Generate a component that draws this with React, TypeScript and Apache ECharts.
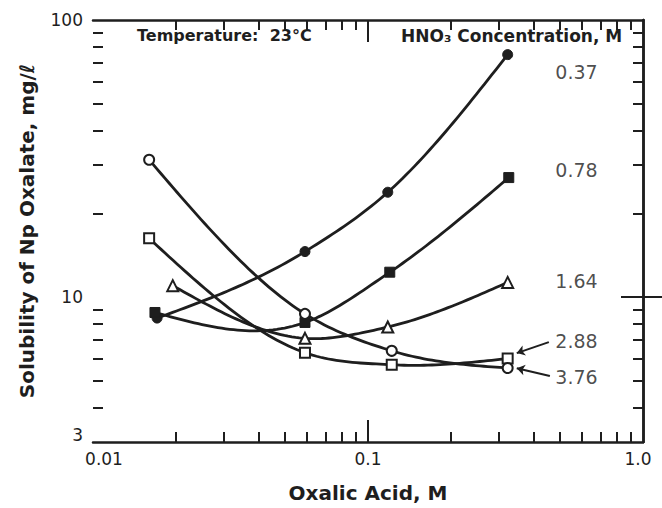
import React, { useEffect, useRef } from 'react';
import * as echarts from 'echarts';

const FONT = 'DejaVu Sans';
const INK = '#1e1e1e';

// HNO3 concentrations (M) labelling each curve
const concentrations = ['0.37', '0.78', '1.64', '2.88', '3.76'];

// Oxalic acid (M) and solubility (mg/l) for each HNO3 concentration
const oxalic037 = [0.0171, 0.059, 0.118, 0.322];
const solub037 = [8.4, 14.6, 23.9, 75];

const oxalic078 = [0.0168, 0.059, 0.12, 0.325];
const solub078 = [8.8, 8.1, 12.3, 27];

const oxalic164 = [0.0195, 0.059, 0.118, 0.322];
const solub164 = [11.0, 7.1, 7.8, 11.3];

const oxalic288 = [0.016, 0.059, 0.122, 0.322];
const solub288 = [16.3, 6.3, 5.7, 6.0];

const oxalic376 = [0.016, 0.059, 0.122, 0.322];
const solub376 = [31.3, 8.7, 6.4, 5.55];

// Axes
const X_MIN = 0.01;
const X_MAX = 1;
const Y_MIN = 3;
const Y_MAX = 100;
const xLabelValues = [0.01, 0.1, 1];
const xLabelTexts = ['0.01', '0.1', '1.0'];
const xMajorTicks = [0.1];
const xMinorTicks = [0.02, 0.03, 0.04, 0.05, 0.06, 0.07, 0.08, 0.09, 0.2, 0.3, 0.4, 0.5, 0.6, 0.7, 0.8, 0.9];
const yLabelValues = [3, 10, 100];
const yMajorTicks = [10];
const yMinorTicks = [4, 5, 6, 7, 8, 9, 20, 30, 40, 50, 60, 70, 80, 90];

// Curve label anchors (data space)
const labelX = [0.478, 0.478, 0.478, 0.478, 0.478];
const labelY = [64.9, 28.7, 11.4, 6.94, 5.14];

// Arrows from labels 2.88 and 3.76 to their end markers
const arrowFromX = [0.4546, 0.4585];
const arrowFromY = [6.88, 5.19];
const arrowToX = [0.3475, 0.3475];
const arrowToY = [6.28, 5.54];

const zip = (xs: number[], ys: number[]) => xs.map((x, i) => [x, ys[i]]);

// Smooth curve through the points in log-log space (cubic Hermite spline)
function makeCurve(xs: number[], ys: number[]) {
  const X = xs.map((v) => Math.log10(v));
  const Y = ys.map((v) => Math.log10(v));
  const n = X.length;
  const h: number[] = [];
  const s: number[] = [];
  for (let i = 0; i < n - 1; i++) {
    h.push(X[i + 1] - X[i]);
    s.push((Y[i + 1] - Y[i]) / h[i]);
  }
  const d: number[] = new Array(n).fill(0);
  for (let i = 1; i < n - 1; i++) {
    d[i] = (h[i] * s[i - 1] + h[i - 1] * s[i]) / (h[i - 1] + h[i]);
  }
  const e0 = ((2 * h[0] + h[1]) * s[0] - h[0] * s[1]) / (h[0] + h[1]);
  const m = n - 2;
  const e1 = ((2 * h[m] + h[m - 1]) * s[m] - h[m] * s[m - 1]) / (h[m - 1] + h[m]);
  d[0] = (e0 + s[0]) / 2;
  d[n - 1] = (e1 + s[m]) / 2;
  return (x: number) => {
    const t0 = Math.log10(x);
    let k = 0;
    while (k < n - 2 && t0 > X[k + 1]) k++;
    const t = (t0 - X[k]) / h[k];
    const t2 = t * t;
    const t3 = t2 * t;
    const r =
      (2 * t3 - 3 * t2 + 1) * Y[k] +
      (t3 - 2 * t2 + t) * h[k] * d[k] +
      (-2 * t3 + 3 * t2) * Y[k + 1] +
      (t3 - t2) * h[k] * d[k + 1];
    return Math.pow(10, r);
  };
}

function xAxisBase(position: 'top' | 'bottom') {
  return {
    type: 'log', logBase: 10, min: X_MIN, max: X_MAX, position,
    splitLine: { show: false }, axisLabel: { show: false },
  };
}
function yAxisBase(position: 'left' | 'right') {
  return {
    type: 'log', logBase: 10, min: Y_MIN, max: Y_MAX, position,
    splitLine: { show: false }, axisLabel: { show: false },
  };
}

export default function App() {
  const ref = useRef<HTMLDivElement>(null);

  useEffect(() => {
    if (!ref.current) return;
    const chart = echarts.init(ref.current, undefined, { renderer: 'svg' });

    const MINOR_LEN = 10;
    const lineAxis = { show: true, lineStyle: { color: INK, width: 2.5 } };
    const majorTick = (vals: number[]) => ({
      show: true, inside: true, length: 22, customValues: vals,
      lineStyle: { color: INK, width: 2 },
    });

    // minor ticks: linear axes laid out in log10 space over the same frame
    const minorX = (position: 'top' | 'bottom') => ({
      type: 'value',
      position,
      min: Math.log10(X_MIN),
      max: Math.log10(X_MAX),
      axisLine: { show: false },
      splitLine: { show: false },
      axisLabel: { show: false },
      axisTick: {
        show: true, inside: true, length: MINOR_LEN,
        customValues: xMinorTicks.map((v) => Math.log10(v)),
        lineStyle: { color: INK, width: 2 },
      },
    });
    const minorY = (position: 'left' | 'right') => ({
      type: 'value',
      position,
      min: Math.log10(Y_MIN),
      max: Math.log10(Y_MAX),
      axisLine: { show: false },
      splitLine: { show: false },
      axisLabel: { show: false },
      axisTick: {
        show: true, inside: true, length: MINOR_LEN,
        customValues: yMinorTicks.map((v) => Math.log10(v)),
        lineStyle: { color: INK, width: 2 },
      },
    });

    const markerOpen = { color: '#ffffff', borderColor: INK, borderWidth: 2, opacity: 1 };
    const markerFilled = { color: INK, borderColor: INK, borderWidth: 1, opacity: 1 };

    const curveSeries = (name: string, xs: number[], ys: number[]) => {
      const f = makeCurve(xs, ys);
      return {
        type: 'custom',
        name: name + ' curve',
        silent: true,
        data: zip(xs, ys),
        renderItem: (params: any, api: any) => {
          if (params.dataIndex !== 0) return null;
          const a = Math.log10(xs[0]);
          const b = Math.log10(xs[xs.length - 1]);
          const pts: number[][] = [];
          const N = 90;
          for (let i = 0; i <= N; i++) {
            const x = Math.pow(10, a + ((b - a) * i) / N);
            pts.push(api.coord([x, f(x)]));
          }
          return {
            type: 'polyline',
            shape: { points: pts },
            style: { stroke: INK, lineWidth: 2.8, fill: null },
          };
        },
        z: 3,
      };
    };

    const markerSeries = (name: string, xs: number[], ys: number[], symbol: string, open: boolean) => ({
      type: 'scatter',
      name,
      data: zip(xs, ys),
      symbol,
      symbolSize: symbol === 'triangle' ? 11 : 10,
      itemStyle: open ? markerOpen : markerFilled,
      clip: false,
      z: 6,
    });

    const option: any = {
      animation: false,
      backgroundColor: '#ffffff',
      textStyle: { fontFamily: FONT },
      grid: { left: 93, right: 19, top: 20, bottom: 66, containLabel: false, outerBoundsMode: 'none' },
      xAxis: [
        {
          ...xAxisBase('bottom'),
          axisLine: lineAxis,
          axisTick: majorTick(xMajorTicks),
          axisLabel: {
            show: true,
            customValues: xLabelValues,
            margin: 8,
            color: INK,
            fontFamily: FONT,
            fontSize: 17,
            formatter: (v: number) => {
              let idx = 0;
              xLabelValues.forEach((lv, i) => {
                if (Math.abs(Math.log10(lv) - Math.log10(v)) < 1e-6) idx = i;
              });
              const t = xLabelTexts[idx];
              if (idx === 0) return '{l|' + t + '}';
              if (idx === xLabelValues.length - 1) return '{r|' + t + '}';
              return t;
            },
            rich: {
              l: { fontFamily: FONT, fontSize: 17, color: INK, padding: [0, 0, 0, 22] },
              r: { fontFamily: FONT, fontSize: 17, color: INK, padding: [0, 10, 0, 0] },
            },
          },
          name: 'Oxalic Acid, M',
          nameLocation: 'middle',
          nameGap: 41,
          nameTextStyle: { fontFamily: FONT, fontSize: 20, fontWeight: 'bold', color: INK },
        },
        { ...xAxisBase('top'), axisLine: lineAxis, axisTick: majorTick(xMajorTicks) },
        minorX('top'),
        minorX('bottom'),
      ],
      yAxis: [
        {
          ...yAxisBase('left'),
          axisLine: lineAxis,
          axisTick: majorTick(yMajorTicks),
          axisLabel: {
            show: true,
            customValues: yLabelValues,
            margin: 10,
            color: INK,
            fontFamily: FONT,
            fontSize: 17,
            formatter: (v: number) => (Math.abs(v - 3) < 1e-6 ? '{b|3}' : String(Math.round(v))),
            rich: {
              b: { fontFamily: FONT, fontSize: 17, color: INK, padding: [0, 0, 14, 0] },
            },
          },
          name: 'Solubility of Np Oxalate, mg/ℓ',
          nameLocation: 'middle',
          nameGap: 56,
          nameTextStyle: { fontFamily: FONT, fontSize: 20, fontWeight: 'bold', color: INK },
        },
        { ...yAxisBase('right'), axisLine: lineAxis, axisTick: majorTick(yMajorTicks) },
        minorY('right'),
        minorY('left'),
      ],
      graphic: [
        {
          type: 'text',
          left: 137,
          top: 27,
          style: { text: 'Temperature:  23°C', fontFamily: FONT, fontSize: 16, fontWeight: 'bold', fill: INK },
          z: 10,
        },
        {
          type: 'text',
          left: 401,
          top: 27,
          style: { text: 'HNO₃ Concentration, M', fontFamily: FONT, fontSize: 17, fontWeight: 'bold', fill: INK },
          z: 10,
        },
      ],
      series: [
        curveSeries(concentrations[0], oxalic037, solub037),
        curveSeries(concentrations[1], oxalic078, solub078),
        curveSeries(concentrations[2], oxalic164, solub164),
        curveSeries(concentrations[3], oxalic288, solub288),
        curveSeries(concentrations[4], oxalic376, solub376),
        markerSeries(concentrations[0], oxalic037, solub037, 'circle', false),
        markerSeries(concentrations[1], oxalic078, solub078, 'rect', false),
        markerSeries(concentrations[2], oxalic164, solub164, 'triangle', true),
        markerSeries(concentrations[3], oxalic288, solub288, 'rect', true),
        markerSeries(concentrations[4], oxalic376, solub376, 'circle', true),
        {
          type: 'scatter',
          name: 'labels',
          symbolSize: 1,
          itemStyle: { color: 'transparent' },
          data: concentrations.map((c, i) => ({ name: c, value: [labelX[i], labelY[i]] })),
          label: {
            show: true,
            position: 'right',
            distance: 0,
            formatter: '{b}',
            fontFamily: FONT,
            fontSize: 19,
            color: INK,
          },
          z: 5,
        },
        {
          type: 'lines',
          coordinateSystem: 'cartesian2d',
          symbol: ['none', 'arrow'],
          symbolSize: 8,
          lineStyle: { color: INK, width: 2, opacity: 1 },
          data: arrowFromX.map((x, i) => ({
            coords: [[x, arrowFromY[i]], [arrowToX[i], arrowToY[i]]],
          })),
          z: 4,
        },
      ],
    };

    chart.setOption(option);
    return () => chart.dispose();
  }, []);

  return (
    <div
      ref={ref}
      style={{ position: 'fixed', left: 0, top: 0, width: 662, height: 508, background: '#fff' }}
    />
  );
}
